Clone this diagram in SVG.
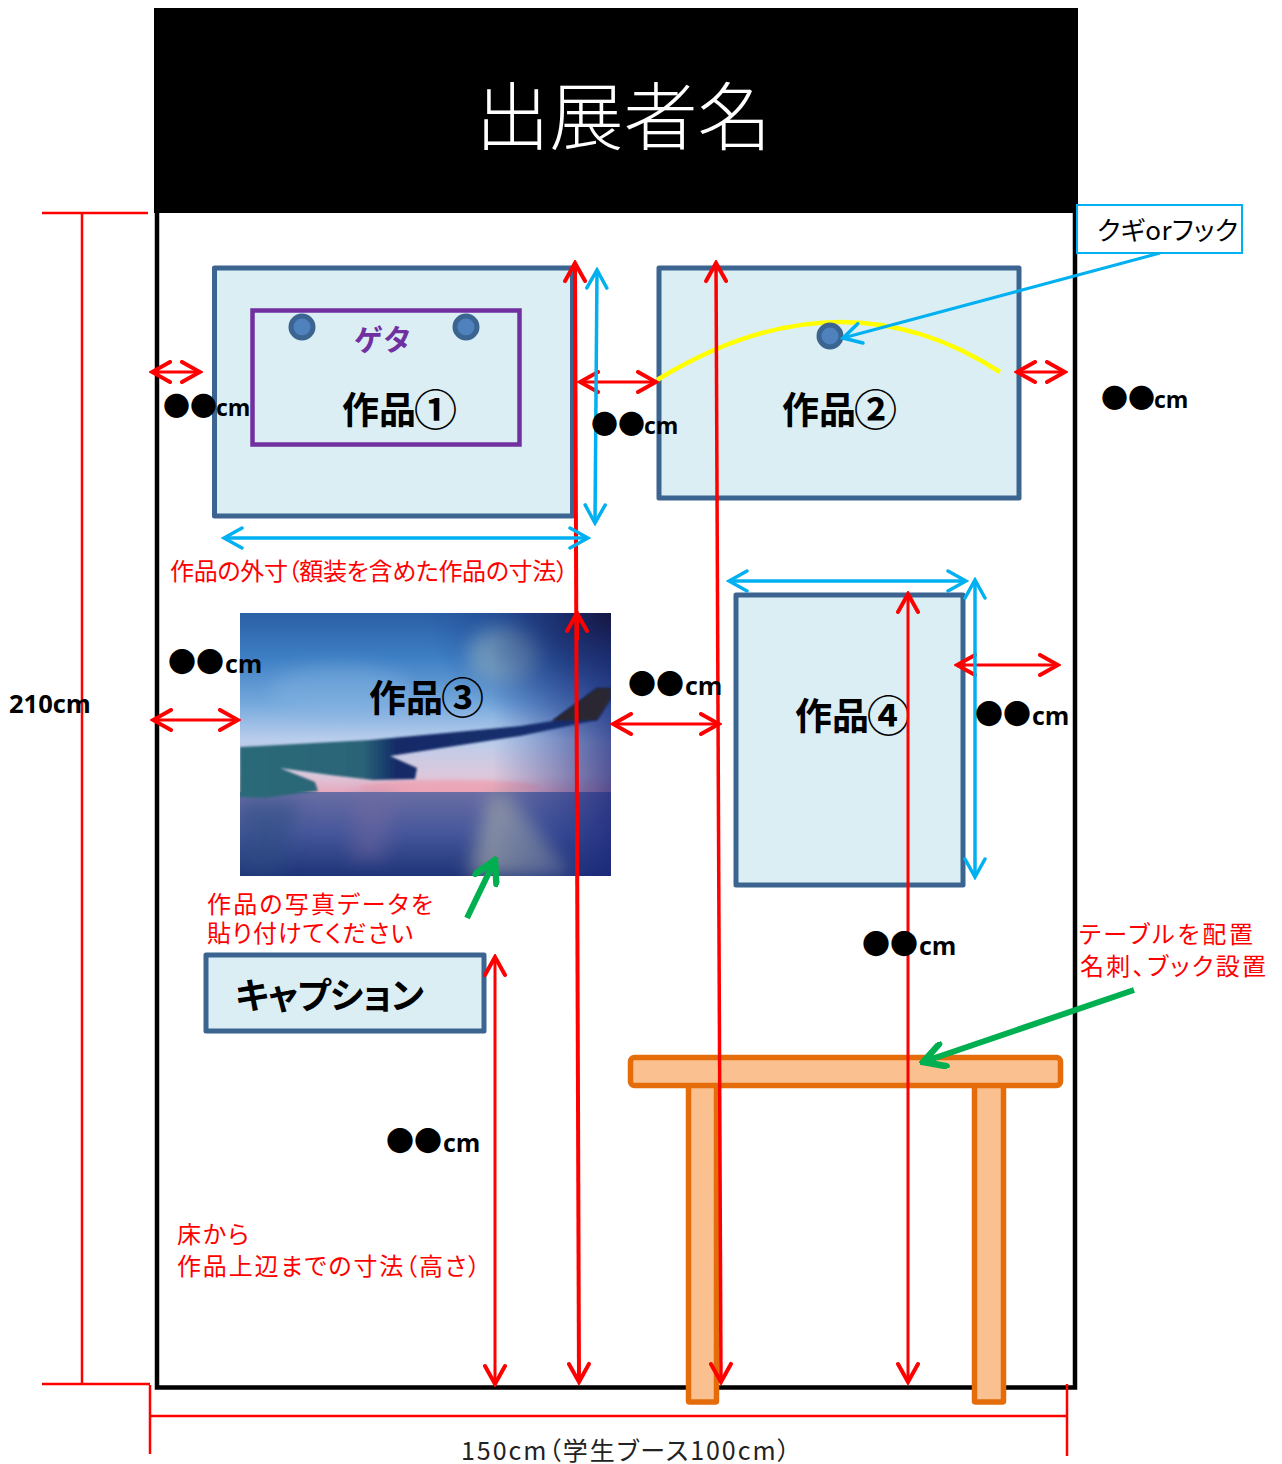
<svg xmlns="http://www.w3.org/2000/svg" width="1282" height="1464" viewBox="0 0 1282 1464">
<style>
text{font-family:"Noto Sans CJK JP","Liberation Sans",sans-serif}
.work{fill:#DBEEF4;stroke:#3B6491;stroke-width:5;stroke-linejoin:round}
.tbl{fill:#FAC090;stroke:#E46C0A;stroke-width:5.5;stroke-linejoin:round}
.pin{fill:#4F81BD;stroke:#3B6491;stroke-width:5}
.lbl{font-size:37px;font-weight:700;fill:#000}
.num{font-size:43px;font-weight:700}
.red{font-size:24px;fill:#FF0000;font-feature-settings:"palt"}
.dim{font-size:27px;fill:#000}
.dim2{font-size:28px;fill:#000}
.cm{font-family:"Open Sans","Liberation Sans",sans-serif;font-size:23px;font-weight:700}
.cm2{font-family:"Open Sans","Liberation Sans",sans-serif;font-size:25px;font-weight:700}
.r{stroke:#FF0000;fill:none}
.b{stroke:#00B0F0;fill:none;stroke-width:3.5}
.g{stroke:#00B050;fill:none;stroke-width:6}
</style>
<defs>
<marker id="ar" markerUnits="userSpaceOnUse" markerWidth="24" markerHeight="24" refX="21" refY="12" orient="auto-start-reverse" viewBox="0 0 24 24"><path d="M3 2L21 12L3 22" fill="none" stroke="#FF0000" stroke-width="4" stroke-linecap="round"/></marker>
<marker id="ab" markerUnits="userSpaceOnUse" markerWidth="24" markerHeight="24" refX="21" refY="12" orient="auto-start-reverse" viewBox="0 0 24 24"><path d="M3 2L21 12L3 22" fill="none" stroke="#00B0F0" stroke-width="3.5" stroke-linecap="round"/></marker>
<marker id="ag" markerUnits="userSpaceOnUse" markerWidth="28" markerHeight="28" refX="21" refY="12" orient="auto" viewBox="0 0 24 24"><path d="M3 2L21 12L3 22" fill="none" stroke="#00B050" stroke-width="5.500" stroke-linecap="round"/></marker>
<linearGradient id="sky" x1="0" y1="0" x2="0" y2="1"><stop offset="0" stop-color="#2A5FA5"/><stop offset=".25" stop-color="#3E7FC4"/><stop offset=".5" stop-color="#74A8DC"/><stop offset=".7" stop-color="#B8CDEC"/><stop offset=".9" stop-color="#DCC8DC"/><stop offset="1" stop-color="#E8A8BC"/></linearGradient>
<linearGradient id="sea" x1="0" y1="0" x2="0" y2="1"><stop offset="0" stop-color="#6A6EA4"/><stop offset=".5" stop-color="#45569A"/><stop offset="1" stop-color="#1E3478"/></linearGradient>
<linearGradient id="side" x1="0" y1="0" x2="1" y2="0"><stop offset=".68" stop-color="#1B3C96" stop-opacity="0"/><stop offset="1" stop-color="#1A2478" stop-opacity=".7"/></linearGradient>
<radialGradient id="corner" cx="1" cy="0" r=".5"><stop offset="0" stop-color="#15153F" stop-opacity=".95"/><stop offset="1" stop-color="#1B3C96" stop-opacity="0"/></radialGradient>
<linearGradient id="wing" x1="0" y1="0" x2="1" y2="0"><stop offset="0" stop-color="#2C6A78"/><stop offset=".33" stop-color="#2B6478"/><stop offset=".42" stop-color="#122C68"/><stop offset="1" stop-color="#152F72"/></linearGradient>
<filter id="bl" x="-40%" y="-40%" width="180%" height="180%"><feGaussianBlur stdDeviation="9"/></filter>
<filter id="bl2"><feGaussianBlur stdDeviation=".8"/></filter>
</defs>

<g id="booth">
<path d="M157 213V1387.500H1075V213" fill="#FFFFFF" stroke="#000" stroke-width="4.500"/>
<rect x="154" y="8" width="924" height="205" fill="#000"/>
<text x="623.500" y="144" text-anchor="middle" font-size="74" font-weight="300" fill="#FFFFFF">出展者名</text>
</g>

<g id="work1">
<rect class="work" x="214.500" y="268" width="358" height="248"/>
<rect x="252.500" y="310.500" width="267" height="134" fill="none" stroke="#7030A0" stroke-width="4.500"/>
<circle class="pin" cx="302" cy="327" r="11"/>
<circle class="pin" cx="466" cy="327" r="11"/>
<text x="383" y="351" text-anchor="middle" font-size="29" font-weight="700" fill="#7030A0">ゲタ</text>
<text class="lbl" x="342" y="424">作品<tspan class="num" dx="-2" dy="2">①</tspan></text>
</g>

<g id="work2">
<rect class="work" x="659" y="268" width="360" height="230"/>
<path d="M657 380Q840 268 1000 372" fill="none" stroke="#FFFF00" stroke-width="4.500"/>
<circle class="pin" cx="830" cy="336" r="11"/>
<text class="lbl" x="782" y="424">作品<tspan class="num" dx="-2" dy="2">②</tspan></text>
</g>

<g id="work3">
<svg x="240" y="613" width="371" height="263" viewBox="240 613 371 263">
<rect x="240" y="613" width="371" height="180" fill="url(#sky)"/>
<ellipse cx="505" cy="655" rx="36" ry="28" fill="#9CC3CF" opacity=".75" filter="url(#bl)"/>
<ellipse cx="340" cy="690" rx="70" ry="25" fill="#8DBBE5" opacity=".35" filter="url(#bl)"/>
<ellipse cx="450" cy="787" rx="90" ry="7" fill="#F0A0B0" opacity=".6" filter="url(#bl2)"/>
<rect x="240" y="792" width="371" height="84" fill="url(#sea)"/>
<path d="M468 876L490 795H510L575 876Z" fill="#A4A8A8" opacity=".65" filter="url(#bl)"/>
<path d="M350 860L355 795H395L385 860Z" fill="#7A6AA0" opacity=".4" filter="url(#bl)"/>
<path d="M240 800H300L280 876H240Z" fill="#2A4E80" opacity=".5" filter="url(#bl)"/>
<rect x="240" y="613" width="371" height="263" fill="url(#side)"/>
<rect x="240" y="613" width="371" height="263" fill="url(#corner)"/>
<path d="M240 747L370 740L520 726L552 721L597 688H611V698L597 720L520 736L390 756L417 768L415 779L373 780L330 775L280 768L315 782L318 791L263 798L240 797Z" fill="url(#wing)" filter="url(#bl2)"/>
<path d="M552 721L597 688H611V698L597 720Z" fill="#2A2530" filter="url(#bl2)"/>
</svg>
<text class="lbl" x="369" y="712">作品<tspan class="num" dx="-2" dy="2">③</tspan></text>
</g>

<g id="work4">
<rect class="work" x="736" y="595" width="227" height="290"/>
<text class="lbl" x="795" y="730">作品<tspan class="num" dx="-2" dy="2">④</tspan></text>
</g>

<g id="caption">
<rect class="work" x="206" y="955" width="278" height="76"/>
<text x="235" y="1009" font-size="36" font-weight="700" textLength="189" lengthAdjust="spacing" style="font-feature-settings:'palt'">キャプション</text>
</g>

<g id="table">
<rect class="tbl" x="688.500" y="1084" width="28" height="318" rx="1"/>
<rect class="tbl" x="974.500" y="1084" width="29" height="318" rx="1"/>
<rect class="tbl" x="630.500" y="1057.500" width="430" height="28" rx="4"/>
</g>

<g id="connectors">
<path class="r" stroke-width="2.500" d="M82 213V1384M42 213H148M42 1384H150M150 1416H1067M150 1385V1454M1067 1384V1456"/>
<path class="r" stroke-width="3" marker-start="url(#ar)" marker-end="url(#ar)" d="M152 372H200"/>
<path class="r" stroke-width="3" marker-start="url(#ar)" marker-end="url(#ar)" d="M580 382H656"/>
<path class="r" stroke-width="3" marker-start="url(#ar)" marker-end="url(#ar)" d="M1017 372H1065"/>
<path class="r" stroke-width="3" marker-start="url(#ar)" marker-end="url(#ar)" d="M153 720H238"/>
<path class="r" stroke-width="3" marker-start="url(#ar)" marker-end="url(#ar)" d="M613 724H719"/>
<path class="r" stroke-width="3" marker-start="url(#ar)" marker-end="url(#ar)" d="M957 665H1058"/>
<path class="r" stroke-width="4" marker-start="url(#ar)" marker-end="url(#ar)" d="M575 263L579 1382"/>
<path class="r" stroke-width="4" marker-start="url(#ar)" d="M577 613V640"/>
<path class="r" stroke-width="3.500" marker-start="url(#ar)" marker-end="url(#ar)" d="M716 263L721 1382"/>
<path class="r" stroke-width="3" marker-start="url(#ar)" marker-end="url(#ar)" d="M908 594V1382"/>
<path class="r" stroke-width="3" marker-start="url(#ar)" marker-end="url(#ar)" d="M495 957V1384"/>
<path class="b" marker-start="url(#ab)" marker-end="url(#ab)" d="M597 270L595 523"/>
<path class="b" marker-start="url(#ab)" marker-end="url(#ab)" d="M224 538H588"/>
<path class="b" marker-start="url(#ab)" marker-end="url(#ab)" d="M729 581H966"/>
<path class="b" marker-start="url(#ab)" marker-end="url(#ab)" d="M975 580V877"/>
<path class="b" style="stroke-width:3" marker-end="url(#ab)" d="M1160 253L843 338"/>
<path class="g" marker-end="url(#ag)" d="M467 918L495 860"/>
<path class="g" marker-end="url(#ag)" d="M1134 990L923 1062"/>
</g>

<g id="labels">
<text x="9" y="713" class="cm" style="font-size:25.500px">210cm</text>
<text x="461" y="1460" font-size="25" fill="#222" textLength="329" lengthAdjust="spacing" style="font-feature-settings:'palt'">150cm（学生ブース100cm）</text>
<rect x="1077" y="205" width="165" height="48" fill="#FFFFFF" stroke="#00B0F0" stroke-width="2"/>
<text x="1097" y="240" font-size="26" textLength="141" lengthAdjust="spacing" style="font-feature-settings:'palt'">クギorフック</text>
<text class="red" x="170" y="580" textLength="398" lengthAdjust="spacing">作品の外寸（額装を含めた作品の寸法）</text>
<text class="red" x="207" y="913" textLength="226" lengthAdjust="spacing">作品の写真データを</text>
<text class="red" x="207" y="942" textLength="206" lengthAdjust="spacing">貼り付けてください</text>
<text class="red" x="1079" y="943" textLength="174" lengthAdjust="spacing">テーブルを配置</text>
<text class="red" x="1080" y="975" textLength="186" lengthAdjust="spacing">名刺、ブック設置</text>
<text class="red" x="177" y="1243" textLength="72" lengthAdjust="spacing">床から</text>
<text class="red" x="177" y="1275" textLength="303" lengthAdjust="spacing">作品上辺までの寸法（高さ）</text>
<text class="dim" x="163" y="416">●●<tspan class="cm" dx="-1">cm</tspan></text>
<text class="dim" x="591" y="434">●●<tspan class="cm" dx="-1">cm</tspan></text>
<text class="dim" x="1101" y="408">●●<tspan class="cm" dx="-1">cm</tspan></text>
<text class="dim2" x="168" y="673">●●<tspan class="cm2" dx="1">cm</tspan></text>
<text class="dim2" x="628" y="695">●●<tspan class="cm2" dx="1">cm</tspan></text>
<text class="dim2" x="975" y="725">●●<tspan class="cm2" dx="1">cm</tspan></text>
<text class="dim2" x="862" y="955">●●<tspan class="cm2" dx="1">cm</tspan></text>
<text class="dim2" x="386" y="1152">●●<tspan class="cm2" dx="1">cm</tspan></text>
</g>
</svg>
